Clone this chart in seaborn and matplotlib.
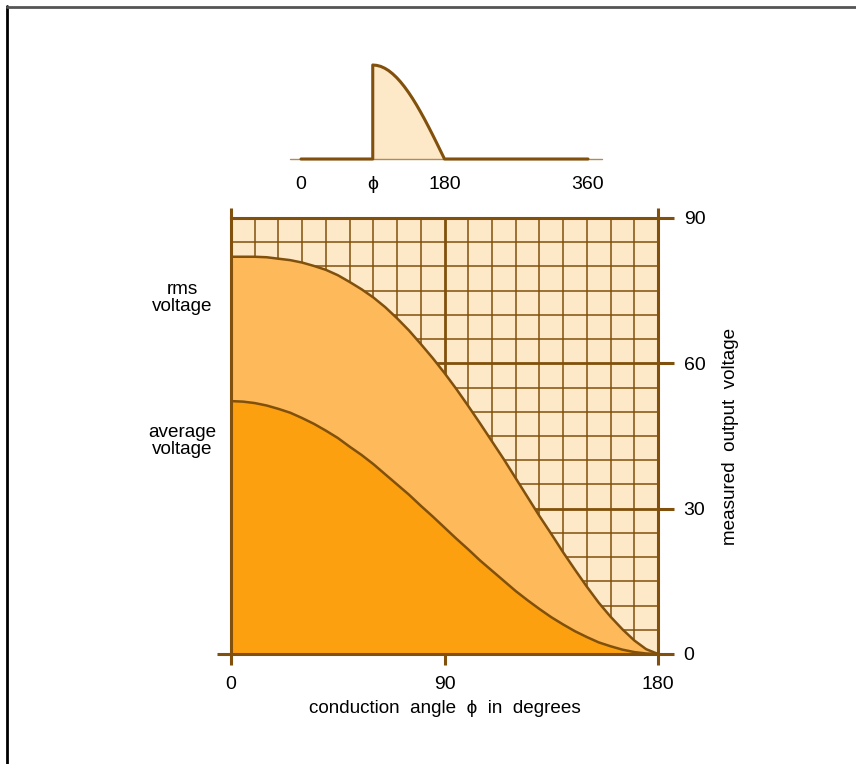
import matplotlib
matplotlib.use("Agg")
import matplotlib.pyplot as plt
from matplotlib.lines import Line2D
import seaborn as sns

# ---------------- data ----------------
angle = [0, 5, 10, 15, 20, 25, 30, 35, 40, 45, 50, 55, 60, 65, 70, 75, 80, 85, 90,
         95, 100, 105, 110, 115, 120, 125, 130, 135, 140, 145, 150, 155, 160, 165,
         170, 175, 180]
rms_voltage = [82.0, 82.0, 82.0, 81.9, 81.6, 81.3, 80.8, 80.1, 79.3, 78.2, 76.8, 75.3,
               73.6, 71.6, 69.3, 66.8, 64.0, 61.1, 58.0, 54.7, 51.2, 47.6, 43.9, 40.2,
               36.3, 32.4, 28.5, 24.8, 21.0, 17.4, 13.9, 10.6, 7.7, 5.1, 2.8, 1.0, 0.0]
average_voltage = [52.2, 52.1, 51.8, 51.3, 50.6, 49.8, 48.7, 47.5, 46.1, 44.6, 42.8, 41.1,
                   39.2, 37.1, 35.0, 32.9, 30.6, 28.4, 26.1, 23.8, 21.6, 19.3, 17.2, 15.1,
                   13.0, 11.1, 9.3, 7.6, 6.1, 4.7, 3.5, 2.4, 1.6, 0.9, 0.4, 0.1, 0.0]

x_ticks = [0, 90, 180]
x_minor = list(range(0, 181, 10))
y_ticks = [0, 30, 60, 90]
y_minor = list(range(0, 91, 5))

wave_angle = [0, 90, 90, 95, 100, 105, 110, 115, 120, 125, 130, 135, 140, 145, 150,
              155, 160, 165, 170, 175, 180, 360]
wave_level = [0, 0, 1.0, 0.996, 0.985, 0.966, 0.940, 0.906, 0.866, 0.819, 0.766, 0.707,
              0.643, 0.574, 0.5, 0.423, 0.342, 0.259, 0.174, 0.087, 0.0, 0]
wave_ticks = [0, 90, 180, 360]
wave_ticklabels = ["0", "ϕ", "180", "360"]

# ---------------- style ----------------
sns.set_theme(style="white")
plt.rcParams['font.family'] = ['Liberation Sans', 'DejaVu Sans']
plt.rcParams['text.color'] = 'black'
plt.rcParams['axes.labelcolor'] = 'black'

brown = "#80500c"
thin_c = "#b48a52"
bg = "#fde8c8"
rms_c = "#fdb95a"
avg_c = "#fca010"

TICK_FS = 14
TEXT_FS = 13.6

fig = plt.figure(figsize=(8.56, 7.64), dpi=100)
W, H = 856, 764

# ---------------- main chart ----------------
ax = fig.add_axes([231 / W, 110 / H, 427 / W, 436 / H])
ax.set_facecolor(bg)
ax.set_xlim(0, 180)
ax.set_ylim(0, 90)
ax.set_xticks(x_ticks)
ax.set_yticks(y_ticks)
ax.set_xticks(x_minor, minor=True)
ax.set_yticks(y_minor, minor=True)
ax.set_axisbelow(True)
ax.grid(which='minor', color=brown, lw=1.1)
ax.grid(which='major', color=brown, lw=2.0)

ax.fill_between(angle, rms_voltage, color=rms_c, lw=0, zorder=1)
ax.fill_between(angle, average_voltage, color=avg_c, lw=0, zorder=1.2)
sns.lineplot(x=angle, y=rms_voltage, ax=ax, color=brown, lw=1.8, zorder=2)
sns.lineplot(x=angle, y=average_voltage, ax=ax, color=brown, lw=1.8, zorder=2)

for s in ax.spines.values():
    s.set_visible(True)
    s.set_color(brown)
    s.set_linewidth(2.2)
    s.set_zorder(2.5)

ax.tick_params(axis='x', which='major', bottom=True, length=8, width=2.2, color=brown,
               pad=8, labelsize=TICK_FS, labelcolor='black')
ax.tick_params(axis='y', which='major', left=False, right=True, labelleft=False,
               labelright=True, length=11.5, width=2.2, color=brown, pad=7,
               labelsize=TICK_FS, labelcolor='black')
ax.tick_params(which='minor', length=0)

# axis line overhangs
ax.plot([-14 / 427, 0], [0, 0], transform=ax.transAxes, clip_on=False, color=brown,
        lw=2.2, solid_capstyle='butt')
ax.plot([0, 0], [1, 1 + 10 / 436], transform=ax.transAxes, clip_on=False, color=brown,
        lw=2.2, solid_capstyle='butt')
ax.plot([1, 1], [1, 1 + 10 / 436], transform=ax.transAxes, clip_on=False, color=brown,
        lw=2.2, solid_capstyle='butt')

ax.set_xlabel("conduction  angle  ϕ  in  degrees", fontsize=TEXT_FS, labelpad=5,
              color='black')
ax.yaxis.set_label_position('right')
ax.set_ylabel("measured  output  voltage", fontsize=TEXT_FS, labelpad=12, color='black')

ax.text(-49 / 427, (654 - 298) / 436, "rms\nvoltage", transform=ax.transAxes,
        ha='center', va='center', fontsize=TEXT_FS, linespacing=1.0, color='black')
ax.text(-49 / 427, (654 - 441) / 436, "average\nvoltage", transform=ax.transAxes,
        ha='center', va='center', fontsize=TEXT_FS, linespacing=1.0, color='black')

# ---------------- waveform inset ----------------
ax2 = fig.add_axes([301 / W, (H - 159) / H, 287 / W, 94 / H])
ax2.set_facecolor('none')
ax2.set_xlim(0, 360)
ax2.set_ylim(0, 1)
for s in ax2.spines.values():
    s.set_visible(False)
ax2.plot([-11 / 287, 1 + 14 / 287], [0, 0], transform=ax2.transAxes, clip_on=False,
         color=thin_c, lw=1.0)
ax2.fill_between(wave_angle, wave_level, color=bg, lw=0)
sns.lineplot(x=wave_angle, y=wave_level, ax=ax2, sort=False, estimator=None,
             color=brown, lw=2.2, clip_on=False)
ax2.set_xticks(wave_ticks)
ax2.set_xticklabels(wave_ticklabels)
ax2.set_yticks([])
ax2.tick_params(axis='x', length=0, pad=12, labelsize=TICK_FS, labelcolor='black')
ax2.set_xlabel("")
ax2.set_ylabel("")

# ---------------- frame lines ----------------
fig.add_artist(Line2D([7.5 / W, 7.5 / W], [0, 1 - 6 / H], color='black', lw=2.0,
                      transform=fig.transFigure))
fig.add_artist(Line2D([7 / W, 1], [1 - 6.5 / H, 1 - 6.5 / H], color='#555555', lw=2.0,
                      transform=fig.transFigure))

fig.savefig("out.png", dpi=100)
